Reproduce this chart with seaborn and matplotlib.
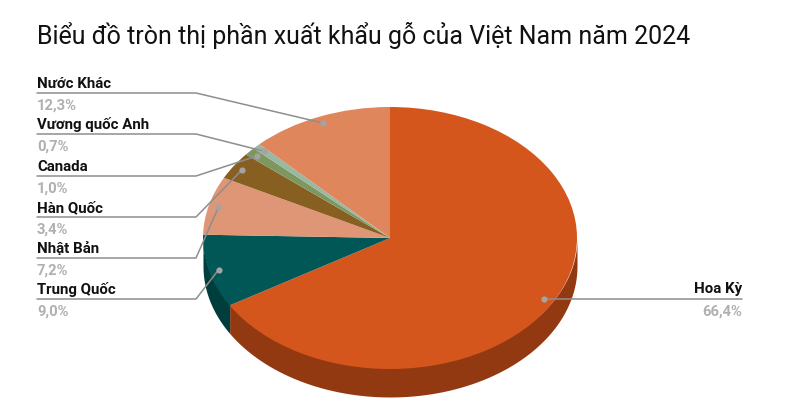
import numpy as np
import pandas as pd
import seaborn as sns
from matplotlib import pyplot as plt

countries = ["Hoa Kỳ", "Trung Quốc", "Nhật Bản", "Hàn Quốc", "Canada", "Vương quốc Anh", "Nước Khác"]
shares = [66.4, 9.0, 7.2, 3.4, 1.0, 0.7, 12.3]
share_labels = ["66,4%", "9,0%", "7,2%", "3,4%", "1,0%", "0,7%", "12,3%"]
slice_colors = ["#D4561D", "#015656", "#DE9677", "#875F21", "#7E9760", "#97B8A3", "#E0865C"]
side_colors = ["#933912", "#003D3D", "#DE9677", "#875F21", "#7E9760", "#97B8A3", "#E0865C"]
title_text = "Biểu đồ tròn thị phần xuất khẩu gỗ của Việt Nam năm 2024"

W, H = 794, 417
CX, CY, RX, RY = 390, 238, 187, 131
DEPTH = 28

sns.set_theme(style="white")
plt.rcParams['font.family'] = ['Roboto', 'DejaVu Sans']


def to_data(px, py):
  # picture pixels to the unit circle of the pie
  return (px - CX) / RX, (CY - py) / RY


fig = plt.figure(figsize=(W / 100, H / 100), dpi=100)
ax = fig.add_axes([0, 0, 1, 1])

# edges of the slices, clockwise from the top
fractions = np.array(shares) / sum(shares)
edges = np.concatenate([[0], np.cumsum(fractions)]) * 2 * np.pi
mids = (edges[:-1] + edges[1:]) / 2

# side wall of the disc, only the lower half of the rim shows
# (starts a little under the top face so no light seam is left)
for i in range(len(shares)):
  start = max(edges[i], np.pi / 2)
  stop = min(edges[i + 1], 3 * np.pi / 2)
  if stop <= start:
    continue
  t = np.linspace(start, stop, 80)
  ax.fill_between(np.sin(t), 0.98 * np.cos(t), np.cos(t) - DEPTH / RY, color=side_colors[i], lw=0, zorder=1)

wedges, _ = ax.pie(shares, colors=slice_colors, startangle=90, counterclock=False, radius=1,
                   wedgeprops={"linewidth": 0})
for w in wedges:
  w.set_zorder(2)

# leader lines: left labels have a shelf and an elbow
shelf_y = {1: 299, 2: 258, 3: 217, 4: 176, 5: 134, 6: 93}
dots = pd.DataFrame({"x": 0.947 * np.sin(mids), "y": 0.947 * np.cos(mids)})

for i, name in enumerate(countries):
  dx, dy = dots.x[i], dots.y[i]
  if i == 0:
    x0, y0 = to_data(742, 299)
    ax.plot([x0, dx], [y0, y0], color="#8e8e8e", lw=1.1, zorder=3)
    tx, ty = to_data(742, 293)
    ax.text(tx, ty, name, ha="right", va="baseline", fontsize=10.8, fontweight="bold", color="#111111")
    tx, ty = to_data(742, 316)
    ax.text(tx, ty, share_labels[i], ha="right", va="baseline", fontsize=10.6, fontweight="bold", color="#b0b0b0")
  else:
    ly = shelf_y[i]
    x0, y0 = to_data(37, ly)
    x1, _ = to_data(196, ly)
    ax.plot([x0, x1, dx], [y0, y0, dy], color="#8e8e8e", lw=1.1, zorder=3)
    tx, ty = to_data(37, ly - 5)
    ax.text(tx, ty, name, ha="left", va="baseline", fontsize=10.8, fontweight="bold", color="#111111")
    tx, ty = to_data(37, ly + 17)
    ax.text(tx, ty, share_labels[i], ha="left", va="baseline", fontsize=10.6, fontweight="bold", color="#b0b0b0")

sns.scatterplot(data=dots, x="x", y="y", color="#a3a3a3", s=20, linewidth=0, zorder=4, ax=ax, clip_on=False)

tx, ty = to_data(37, 44)
ax.text(tx, ty, title_text, ha="left", va="baseline", fontsize=17.97, color="#111111")

# pie forces a round shape, undo it so the disc is tilted
ax.set_aspect("auto")
ax.set_xlim(-CX / RX, (W - CX) / RX)
ax.set_ylim((CY - H) / RY, CY / RY)
ax.set_xlabel("")
ax.set_ylabel("")
ax.axis("off")

fig.savefig("out.png", dpi=100, facecolor="white")
